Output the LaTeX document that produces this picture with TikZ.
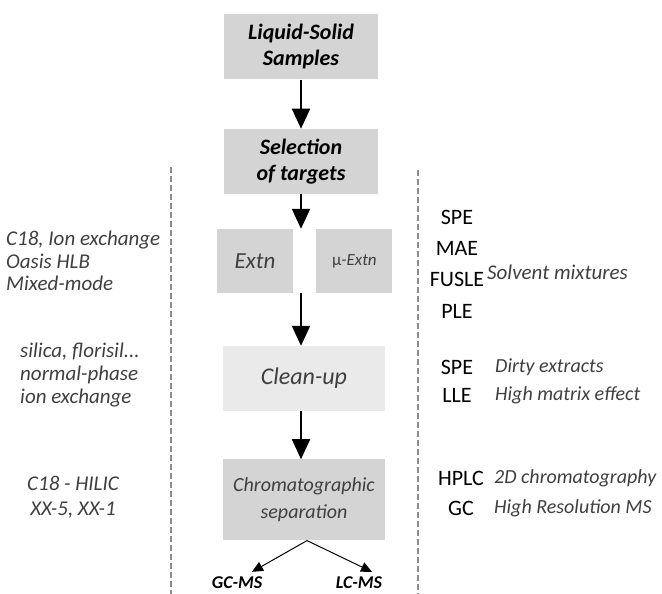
\documentclass[tikz,border=0pt]{standalone}
\usepackage{fontspec}
\setmainfont{Carlito}
\usepackage{tikz}
\usetikzlibrary{positioning, arrows.meta}

\definecolor{boxgray}{HTML}{D4D4D4}
\definecolor{cleangray}{HTML}{EAEAEA}
\definecolor{textgray}{HTML}{3F3F3F}
\definecolor{dashgray}{HTML}{8C8C8C}

\begin{document}
\begin{tikzpicture}[
  x=1pt, y=-1pt,
  box/.style={fill=boxgray, minimum width=154pt, minimum height=65pt,
    align=center, inner sep=0pt},
  headbox/.style={box, font=\fontsize{22}{26}\selectfont\bfseries\itshape},
  stagebox/.style={box, minimum width=162pt, text=textgray,
    font=\fontsize{24}{28}\selectfont\itshape},
  extnbox/.style={box, minimum width=76pt, minimum height=64pt, text=textgray,
    font=\fontsize{23}{26}\selectfont\itshape},
  note/.style={text=textgray, inner sep=0pt},
  tech/.style={align=center, inner sep=0pt},
  outlabel/.style={inner sep=0pt, font=\fontsize{18}{20}\selectfont\bfseries\itshape},
  arrow/.style={-{Triangle[length=20pt, width=18pt]}, line width=2pt},
  splitarrow/.style={-{Triangle[length=11pt, width=10pt]}, line width=1pt},
  divider/.style={draw=dashgray, line width=1.3pt, dash pattern=on 6pt off 3pt},
]
  \useasboundingbox (0,0) rectangle (662,594);

  % main sequence
  \node[headbox] (samples) at (301,47) {Liquid-Solid\\Samples};
  \node[headbox, below=49pt of samples] (targets) {Selection\\of targets};
  \node[extnbox] (extn) at (255,261) {Extn};
  \node[extnbox, right=23pt of extn, font=\fontsize{17}{20}\selectfont\itshape] (muextn) {{\upshape μ}-Extn};
  \node[stagebox, fill=cleangray] (cleanup) at (304,378.5) {Clean-up};
  \node[stagebox, minimum height=81pt, below=48pt of cleanup,
    font=\fontsize{20}{27}\selectfont\itshape] (chrom) {Chromatographic\\separation};
  \node[outlabel] (gcms) at (237,583) {GC-MS};
  \node[outlabel] (lcms) at (359,583) {LC-MS};

  \draw[arrow] (samples) -- (targets);
  \draw[arrow] (targets) -- (targets |- extn.north);
  \draw[arrow] (targets |- extn.south) -- (targets |- cleanup.north);
  \draw[arrow] (targets |- cleanup.south) -- (targets |- chrom.north);
  \draw[splitarrow] ([xshift=3pt]chrom.south) -- ([shift={(15pt,5pt)}]gcms.north);
  \draw[splitarrow] ([xshift=3pt]chrom.south) -- ([shift={(13pt,5pt)}]lcms.north);

  % column borders
  \draw[divider] (171,167) -- (171,594);
  \draw[divider] (418,170) -- (418,594);

  % stationary phases
  \node[note, align=left, anchor=west, font=\fontsize{21}{22.5}\selectfont\itshape]
    (phases) at (6,261) {C18, Ion exchange\\Oasis HLB\\Mixed-mode};
  \node[note, align=left, anchor=west, font=\fontsize{21}{23}\selectfont\itshape]
    (sorbents) at (20,375) {silica, florisil...\\normal-phase\\ion exchange};
  \node[note, align=center, font=\fontsize{21}{25}\selectfont\itshape]
    (columns) at (73,497) {C18 - HILIC\\XX-5, XX-1};

  % techniques
  \node[tech, font=\fontsize{22}{31.3}\selectfont] (extntech) at (457,264) {SPE\\MAE\\FUSLE\\PLE};
  \node[note, anchor=west, font=\fontsize{21}{23}\selectfont\itshape] (solvent) at (487,272) {Solvent mixtures};
  \node[tech, font=\fontsize{22}{28}\selectfont] (cleantech) at (457,381) {SPE\\LLE};
  \node[note, align=left, anchor=west, font=\fontsize{20}{28}\selectfont\itshape]
    (cleannote) at (495,381) {Dirty extracts\\High matrix effect};
  \node[tech, font=\fontsize{22}{30}\selectfont] (chromtech) at (461,493) {HPLC\\GC};
  \node[note, align=left, anchor=west, font=\fontsize{20}{30}\selectfont\itshape]
    (chromnote) at (494,493) {2D chromatography\\High Resolution MS};
\end{tikzpicture}
\end{document}
